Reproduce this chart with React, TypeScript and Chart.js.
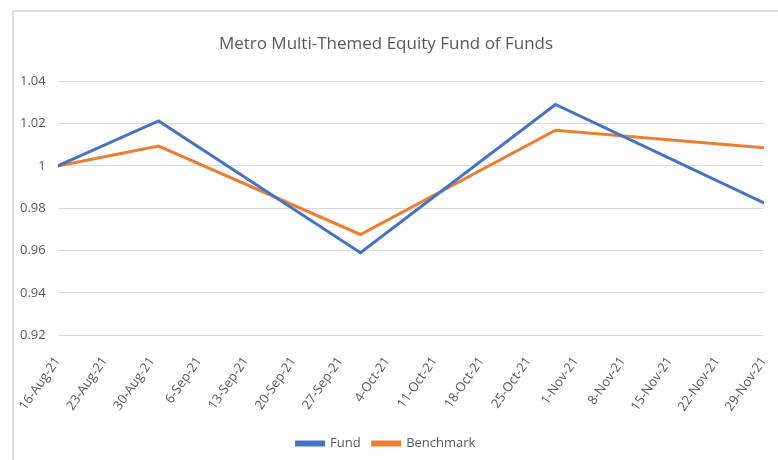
import React, { useEffect, useRef } from "react";
import { Chart, registerables } from "chart.js";

Chart.register(...registerables);

const chartTitle = "Metro Multi-Themed Equity Fund of Funds";
const tickLabels = [
  "16-Aug-21", "23-Aug-21", "30-Aug-21", "6-Sep-21", "13-Sep-21", "20-Sep-21",
  "27-Sep-21", "4-Oct-21", "11-Oct-21", "18-Oct-21", "25-Oct-21", "1-Nov-21",
  "8-Nov-21", "15-Nov-21", "22-Nov-21", "29-Nov-21",
];
const pointDates = ["16-Aug-21", "31-Aug-21", "30-Sep-21", "29-Oct-21", "29-Nov-21"];
const fundValues = [1.0, 1.0213, 0.959, 1.0291, 0.9825];
const benchmarkValues = [1.0, 1.0094, 0.9676, 1.0169, 1.0086];
const yMin = 0.92;
const yMax = 1.04;
const yStep = 0.02;

const MONTHS: Record<string, number> = {
  Jan: 0, Feb: 1, Mar: 2, Apr: 3, May: 4, Jun: 5, Jul: 6, Aug: 7, Sep: 8, Oct: 9, Nov: 10, Dec: 11,
};
function parseDate(s: string) {
  const [d, m, y] = s.split("-");
  return Date.UTC(2000 + Number(y), MONTHS[m], Number(d));
}
const origin = parseDate(tickLabels[0]);
function dayOffset(s: string) {
  return Math.round((parseDate(s) - origin) / 86400000);
}

const FONT = "'Open Sans', sans-serif";
const GREY = "#595959";

export default function App() {
  const ref = useRef<HTMLCanvasElement | null>(null);
  useEffect(() => {
    if (!ref.current) return;
    const chart = new Chart(ref.current, {
      type: "line",
      data: {
        datasets: [
          {
            label: "Fund",
            data: pointDates.map((d, i) => ({ x: dayOffset(d), y: fundValues[i] })),
            borderColor: "#4472C4",
            backgroundColor: "#4472C4",
            borderWidth: 3,
            pointRadius: 0,
            tension: 0,
          },
          {
            label: "Benchmark",
            data: pointDates.map((d, i) => ({ x: dayOffset(d), y: benchmarkValues[i] })),
            borderColor: "#ED7D31",
            backgroundColor: "#ED7D31",
            borderWidth: 3,
            pointRadius: 0,
            tension: 0,
          },
        ],
      },
      options: {
        animation: false,
        responsive: false,
        maintainAspectRatio: false,
        layout: { padding: { left: 8, right: 14, top: 0, bottom: 0 } },
        plugins: {
          title: {
            display: true,
            text: chartTitle,
            color: GREY,
            font: { family: FONT, size: 17, weight: "normal" },
            padding: { top: 34, bottom: 27 },
          },
          legend: {
            position: "bottom",
            labels: {
              boxWidth: 27,
              boxHeight: 3,
              color: GREY,
              font: { family: FONT, size: 13 },
              padding: 12,
            },
          },
          tooltip: { enabled: false },
        },
        scales: {
          x: {
            type: "linear",
            min: 0,
            max: dayOffset(tickLabels[tickLabels.length - 1]),
            afterBuildTicks: (scale: any) => {
              scale.ticks = tickLabels.map((l) => ({ value: dayOffset(l) }));
            },
            afterFit: (scale: any) => {
              scale.paddingLeft = 0;
              scale.paddingRight = 0;
            },
            grid: { display: false },
            border: { display: false },
            ticks: {
              autoSkip: false,
              minRotation: 55,
              maxRotation: 55,
              padding: 11,
              color: GREY,
              font: { family: FONT, size: 13 },
              callback: (_v: any, i: number) => tickLabels[i],
            },
          },
          y: {
            min: yMin,
            max: yMax,
            grid: { color: "#d9d9d9", lineWidth: 1, drawTicks: false },
            border: { display: false },
            ticks: {
              stepSize: yStep,
              padding: 12,
              color: GREY,
              font: { family: FONT, size: 13 },
              callback: (v: any) => String(Number(Number(v).toFixed(2))),
            },
          },
        },
      },
    });
    return () => chart.destroy();
  }, []);

  return (
    <div style={{ position: "fixed", left: 0, top: 0, width: 778, height: 460, background: "#fff" }}>
      <div
        style={{
          position: "absolute",
          left: 12,
          top: 10,
          right: 0,
          bottom: 0,
          borderTop: "2px solid #dedede",
          borderLeft: "2px solid #dedede",
        }}
      />
      <canvas ref={ref} width={778} height={460} style={{ position: "absolute", left: 0, top: 0 }} />
    </div>
  );
}
